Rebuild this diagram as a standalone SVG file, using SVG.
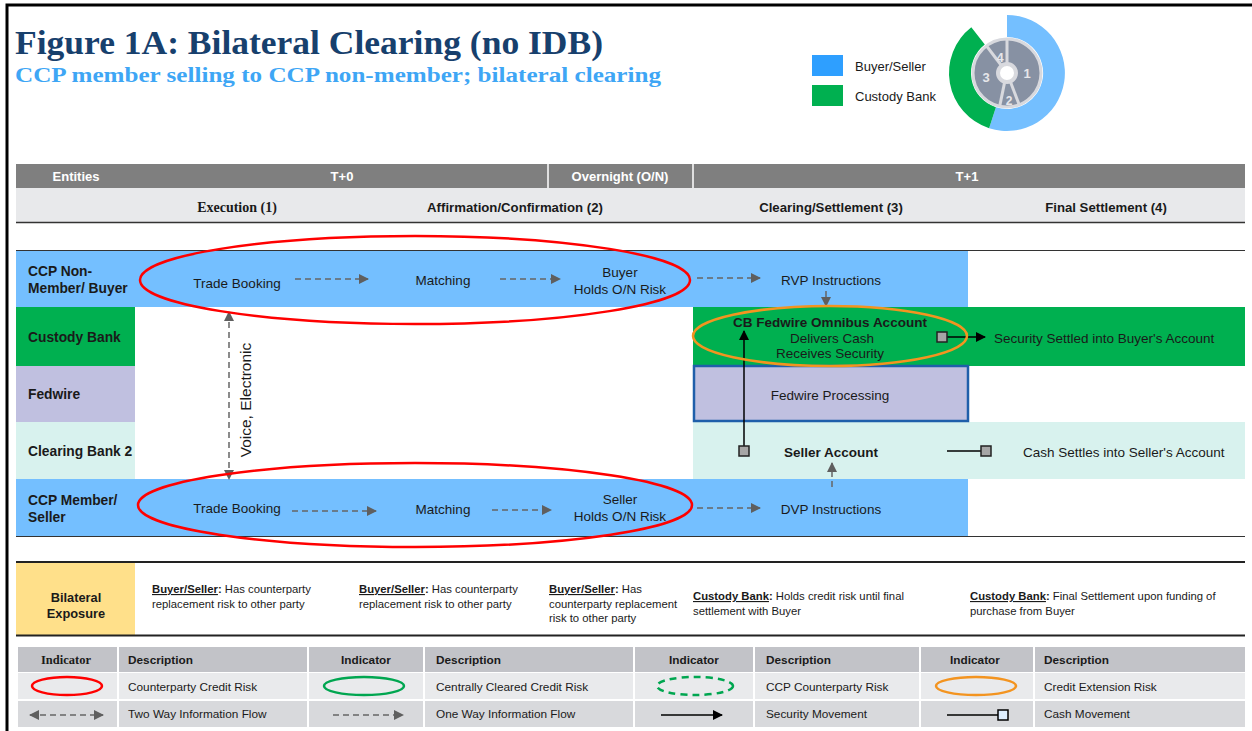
<svg xmlns="http://www.w3.org/2000/svg" width="1252" height="731" viewBox="0 0 1252 731">
<defs>
<style>
text{font-family:"Liberation Sans",Arial,sans-serif;fill:#1a1a1a;font-size:13.5px}
.b{font-weight:bold}
.rl{font-weight:bold;font-size:13.8px}
.c{text-anchor:middle}
.hd{fill:#fff;font-weight:bold;font-size:13px;text-anchor:middle}
.sm{font-size:11.3px}
.lg{font-size:11.8px}
.serif{font-family:"Liberation Serif","Times New Roman",serif}
.dash{stroke:#666;stroke-width:1.5;stroke-dasharray:6,4;fill:none}
.blk{stroke:#000;stroke-width:1.5;fill:none}
.sq{fill:#a6a6a6;stroke:#222;stroke-width:1.5}
</style>
<marker id="ga" viewBox="0 0 10 10" refX="9" refY="5" markerWidth="10" markerHeight="10" markerUnits="userSpaceOnUse" orient="auto-start-reverse"><path d="M0,0 L10,5 L0,10 Z" fill="#5f5f5f"/></marker>
<marker id="ba" viewBox="0 0 10 10" refX="9" refY="5" markerWidth="10" markerHeight="10" markerUnits="userSpaceOnUse" orient="auto"><path d="M0,0 L10,5 L0,10 Z" fill="#000"/></marker>
</defs>
<rect width="1252" height="731" fill="#fff"/>
<path d="M7,731 L7,5 L1252,5" fill="none" stroke="#000" stroke-width="3"/>

<g id="title">
<text x="15" y="54" class="serif b" style="font-size:33px;fill:#17406d" textLength="588" lengthAdjust="spacingAndGlyphs">Figure 1A: Bilateral Clearing (no IDB)</text>
<text x="15" y="82" class="serif b" style="font-size:21px;fill:#3ea6f5" textLength="646" lengthAdjust="spacingAndGlyphs">CCP member selling to CCP non-member; bilateral clearing</text>
</g>

<g id="legend-top">
<rect x="812" y="55" width="31" height="21" fill="#2e9fff"/>
<rect x="812" y="85" width="31" height="21" fill="#00b050"/>
<text x="855" y="71" style="font-size:13px">Buyer/Seller</text>
<text x="855" y="101" style="font-size:13px">Custody Bank</text>
</g>

<g id="donut">
<path d="M1007,15 A58,58 0 1,1 989.1,128.2 L995.9,107.2 A36,36 0 1,0 1007,37 Z" fill="#74bfff"/>
<path d="M989.1,128.2 A58,58 0 0,1 971.3,27.3 L984.8,44.6 A36,36 0 0,0 995.9,107.2 Z" fill="#00b050"/>
<circle cx="1007" cy="73" r="34" fill="#8791a3" stroke="#d8d9de" stroke-width="3"/>
<g stroke="#d8d9de" stroke-width="3">
<line x1="1007" y1="63" x2="1007" y2="39"/>
<line x1="1010.6" y1="82.3" x2="1019.2" y2="104.8"/>
<line x1="1004.5" y1="82.9" x2="999.6" y2="106.6"/>
<line x1="1001" y1="65" x2="986.5" y2="45.8"/>
</g>
<circle cx="1007" cy="73" r="9" fill="#fff" stroke="#d8d9de" stroke-width="4"/>
<text x="1027" y="78" class="c" style="fill:#e6e6ea;font-weight:bold;font-size:13px">1</text>
<text x="1009" y="105" class="c" style="fill:#e6e6ea;font-weight:bold;font-size:12px">2</text>
<text x="986" y="82" class="c" style="fill:#e6e6ea;font-weight:bold;font-size:13px">3</text>
<text x="1000" y="62" class="c" style="fill:#e6e6ea;font-weight:bold;font-size:13px">4</text>
</g>

<g id="header">
<rect x="16" y="164" width="1229" height="24" fill="#7f7f7f"/>
<line x1="548" y1="164" x2="548" y2="188" stroke="#fff" stroke-width="1.5"/>
<line x1="693" y1="164" x2="693" y2="188" stroke="#fff" stroke-width="1.5"/>
<text x="76" y="181" class="hd">Entities</text>
<text x="342" y="181" class="hd">T+0</text>
<text x="620" y="181" class="hd">Overnight (O/N)</text>
<text x="967" y="181" class="hd">T+1</text>
<rect x="16" y="188" width="1229" height="34" fill="#e8e9eb"/>
<line x1="16" y1="222.5" x2="1245" y2="222.5" stroke="#333" stroke-width="1.5"/>
<text x="237" y="212" class="c b serif" style="font-size:14px">Execution (1)</text>
<text x="515" y="212" class="c b" style="font-size:13.2px">Affirmation/Confirmation (2)</text>
<text x="831" y="212" class="c b" style="font-size:13.2px">Clearing/Settlement (3)</text>
<text x="1106" y="212" class="c b" style="font-size:13.2px">Final Settlement (4)</text>
</g>

<g id="lanes">
<rect x="16" y="251" width="952" height="56" fill="#74bfff"/>
<rect x="16" y="307" width="119" height="59" fill="#00b050"/>
<rect x="693" y="307" width="552" height="59" fill="#00b050"/>
<rect x="16" y="366" width="119" height="56" fill="#c0c0e0"/>
<rect x="16" y="422" width="119" height="57" fill="#d8f2ee"/>
<rect x="693" y="422" width="552" height="57" fill="#d8f2ee"/>
<rect x="16" y="479" width="952" height="57" fill="#74bfff"/>
<line x1="16" y1="250.5" x2="1245" y2="250.5" stroke="#333" stroke-width="1.2"/>
<line x1="16" y1="536.5" x2="1245" y2="536.5" stroke="#333" stroke-width="1.2"/>
<text x="28" y="276" class="rl">CCP Non-</text>
<text x="28" y="293" class="rl">Member/ Buyer</text>
<text x="28" y="342" class="rl">Custody Bank</text>
<text x="28" y="399" class="rl">Fedwire</text>
<text x="28" y="456" class="rl">Clearing Bank 2</text>
<text x="28" y="505" class="rl">CCP Member/</text>
<text x="28" y="522" class="rl">Seller</text>
</g>

<g id="buyer-trade-booking"><text x="237" y="288" class="c">Trade Booking</text></g>
<g id="buyer-matching"><text x="443" y="285" class="c">Matching</text></g>
<g id="buyer-risk"><text x="620" y="277" class="c">Buyer</text><text x="620" y="294" class="c">Holds O/N Risk</text></g>
<g id="rvp"><text x="831" y="285" class="c">RVP Instructions</text></g>

<g id="cb-omnibus">
<text x="830" y="326.5" class="c b">CB Fedwire Omnibus Account</text>
<text x="832" y="342.5" class="c">Delivers  Cash</text>
<text x="830" y="357.5" class="c">Receives Security</text>
</g>
<g id="security-settled"><text x="994" y="342.5">Security Settled into Buyer's Account</text></g>

<g id="fedwire-processing">
<rect x="694" y="366" width="274" height="55" fill="#c0c0e0" stroke="#1f5faa" stroke-width="2.5"/>
<text x="830" y="399.5" class="c">Fedwire Processing</text>
</g>

<g id="seller-account"><text x="831" y="456.5" class="c b">Seller Account</text></g>
<g id="cash-settles"><text x="1023" y="456.5">Cash Settles into Seller's Account</text></g>

<g id="seller-trade-booking"><text x="237" y="513" class="c">Trade Booking</text></g>
<g id="seller-matching"><text x="443" y="514" class="c">Matching</text></g>
<g id="seller-risk"><text x="620" y="504" class="c">Seller</text><text x="620" y="521" class="c">Holds O/N Risk</text></g>
<g id="dvp"><text x="831" y="514" class="c">DVP Instructions</text></g>

<g id="connectors">
<line x1="295" y1="279" x2="368" y2="279" class="dash" marker-end="url(#ga)"/>
<line x1="500" y1="279" x2="560" y2="279" class="dash" marker-end="url(#ga)"/>
<line x1="697" y1="278" x2="760" y2="278" class="dash" marker-end="url(#ga)"/>
<line x1="292" y1="511" x2="376" y2="511" class="dash" marker-end="url(#ga)"/>
<line x1="492" y1="510" x2="551" y2="510" class="dash" marker-end="url(#ga)"/>
<line x1="697" y1="508" x2="760" y2="508" class="dash" marker-end="url(#ga)"/>
<line x1="826" y1="291" x2="826" y2="306" class="dash" marker-end="url(#ga)"/>
<line x1="832" y1="487" x2="832" y2="463" class="dash" marker-end="url(#ga)"/>
<line x1="229" y1="312" x2="229" y2="479" class="dash" marker-start="url(#ga)" marker-end="url(#ga)"/>
<text transform="translate(251,400) rotate(-90)" class="c" style="font-size:15.5px">Voice, Electronic</text>
<line x1="744" y1="446" x2="744" y2="331" class="blk" marker-end="url(#ba)"/>
<rect x="739" y="446" width="10" height="10" class="sq"/>
<line x1="947" y1="337" x2="985" y2="337" class="blk" marker-end="url(#ba)"/>
<rect x="937" y="332" width="10" height="10" class="sq"/>
<line x1="947" y1="451" x2="981" y2="451" class="blk"/>
<rect x="981" y="446" width="10" height="10" class="sq"/>
</g>

<g id="risk-ellipses" fill="none">
<ellipse cx="415" cy="280" rx="275" ry="44" stroke="#ff0000" stroke-width="2.5"/>
<ellipse cx="415" cy="505" rx="277" ry="42" stroke="#ff0000" stroke-width="2.5"/>
<ellipse cx="830" cy="336" rx="137" ry="30" stroke="#f39420" stroke-width="2.5"/>
</g>

<g id="bilateral">
<line x1="16" y1="562" x2="1245" y2="562" stroke="#222" stroke-width="2"/>
<rect x="16" y="563" width="119" height="72" fill="#ffe08a"/>
<line x1="16" y1="635.5" x2="1245" y2="635.5" stroke="#222" stroke-width="2"/>
<text x="76" y="602" class="c b" style="font-size:12.8px">Bilateral</text>
<text x="76" y="618" class="c b" style="font-size:12.8px">Exposure</text>
<text x="152" y="593" class="sm"><tspan font-weight="bold" text-decoration="underline">Buyer/Seller</tspan><tspan font-weight="bold">:</tspan> Has counterparty</text>
<text x="152" y="608" class="sm">replacement  risk to other party</text>
<text x="359" y="593" class="sm"><tspan font-weight="bold" text-decoration="underline">Buyer/Seller</tspan><tspan font-weight="bold">:</tspan> Has counterparty</text>
<text x="359" y="608" class="sm">replacement  risk to other party</text>
<text x="549" y="593" class="sm"><tspan font-weight="bold" text-decoration="underline">Buyer/Seller</tspan><tspan font-weight="bold">:</tspan> Has</text>
<text x="549" y="608" class="sm">counterparty  replacement</text>
<text x="549" y="622" class="sm">risk to other party</text>
<text x="693" y="600" class="sm"><tspan font-weight="bold" text-decoration="underline">Custody Bank</tspan><tspan font-weight="bold">:</tspan> Holds credit risk until  final</text>
<text x="693" y="615" class="sm">settlement  with Buyer</text>
<text x="970" y="600" class="sm"><tspan font-weight="bold" text-decoration="underline">Custody Bank</tspan><tspan font-weight="bold">:</tspan> Final Settlement  upon funding of</text>
<text x="970" y="615" class="sm">purchase from Buyer</text>
</g>

<g id="legend-table">
<g fill="#c2c3c8">
<rect x="18" y="647" width="99" height="25"/><rect x="119" y="647" width="188" height="25"/>
<rect x="309" y="647" width="114" height="25"/><rect x="425" y="647" width="208" height="25"/>
<rect x="635" y="647" width="118" height="25"/><rect x="755" y="647" width="164" height="25"/>
<rect x="921" y="647" width="112" height="25"/><rect x="1035" y="647" width="210" height="25"/>
</g>
<g fill="#e9eaec">
<rect x="18" y="673" width="99" height="26"/><rect x="119" y="673" width="188" height="26"/>
<rect x="309" y="673" width="114" height="26"/><rect x="425" y="673" width="208" height="26"/>
<rect x="635" y="673" width="118" height="26"/><rect x="755" y="673" width="164" height="26"/>
<rect x="921" y="673" width="112" height="26"/><rect x="1035" y="673" width="210" height="26"/>
</g>
<g fill="#d8d9dc">
<rect x="18" y="701" width="99" height="26"/><rect x="119" y="701" width="188" height="26"/>
<rect x="309" y="701" width="114" height="26"/><rect x="425" y="701" width="208" height="26"/>
<rect x="635" y="701" width="118" height="26"/><rect x="755" y="701" width="164" height="26"/>
<rect x="921" y="701" width="112" height="26"/><rect x="1035" y="701" width="210" height="26"/>
</g>
<text x="66" y="664" class="c b serif lg" style="font-size:12.5px">Indicator</text>
<text x="128" y="664" class="b lg">Description</text>
<text x="366" y="664" class="c b lg">Indicator</text>
<text x="436" y="664" class="b lg">Description</text>
<text x="694" y="664" class="c b lg">Indicator</text>
<text x="766" y="664" class="b lg">Description</text>
<text x="975" y="664" class="c b lg">Indicator</text>
<text x="1044" y="664" class="b lg">Description</text>
<ellipse cx="67" cy="686" rx="35" ry="9" fill="none" stroke="#ff0000" stroke-width="2.5"/>
<ellipse cx="364" cy="686" rx="40" ry="9" fill="none" stroke="#00a650" stroke-width="2.5"/>
<ellipse cx="695" cy="686" rx="38" ry="9" fill="none" stroke="#00a650" stroke-width="2.5" stroke-dasharray="7,5"/>
<ellipse cx="976" cy="686" rx="40" ry="9" fill="none" stroke="#f39420" stroke-width="2.5"/>
<text x="128" y="691" class="lg">Counterparty  Credit Risk</text>
<text x="436" y="691" class="lg">Centrally Cleared Credit Risk</text>
<text x="766" y="691" class="lg">CCP Counterparty  Risk</text>
<text x="1044" y="691" class="lg">Credit Extension Risk</text>
<line x1="30" y1="715" x2="103" y2="715" class="dash" marker-start="url(#ga)" marker-end="url(#ga)"/>
<line x1="333" y1="715" x2="403" y2="715" class="dash" marker-end="url(#ga)"/>
<line x1="661" y1="715" x2="722" y2="715" class="blk" marker-end="url(#ba)"/>
<line x1="947" y1="715" x2="998" y2="715" class="blk"/>
<rect x="998" y="710" width="10" height="10" fill="#ddeeff" stroke="#000" stroke-width="1.5"/>
<text x="128" y="718" class="lg">Two Way Information  Flow</text>
<text x="436" y="718" class="lg">One Way Information  Flow</text>
<text x="766" y="718" class="lg">Security Movement</text>
<text x="1044" y="718" class="lg">Cash Movement</text>
</g>
</svg>
